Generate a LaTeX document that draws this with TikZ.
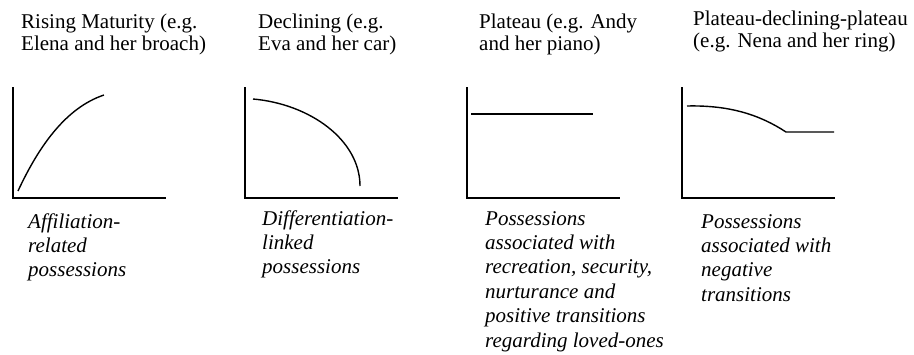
\documentclass[tikz,border=0pt]{standalone}
\usepackage{fontspec}
\setmainfont{Liberation Serif}
\begin{document}
\begin{tikzpicture}[x=1pt,y=-1pt,
  axis/.style={line width=1.4pt},
  curve/.style={line width=1.4pt},
  title/.style={anchor=base west,inner sep=0pt,align=left,font=\fontsize{21}{22.2}\selectfont},
  desc/.style={anchor=base west,inner sep=0pt,align=left,font=\fontsize{21}{24.4}\selectfont\itshape}]
\useasboundingbox (0,0) rectangle (914,354);
% chart 1
\coordinate (a1t) at (13,87); \coordinate (a1o) at (13,198); \coordinate (a1r) at (166,198);
\draw[axis] (a1t) -- (a1o) -- (a1r);
\coordinate (c1s) at (18,191); \coordinate (c1e) at (104,95);
\draw[curve] (c1s) .. controls (38,148) and (65,108) .. (c1e);
% chart 2
\coordinate (a2t) at (245,87); \coordinate (a2o) at (245,198); \coordinate (a2r) at (398,198);
\draw[axis] (a2t) -- (a2o) -- (a2r);
\coordinate (c2s) at (253,99); \coordinate (c2e) at (360,186);
\draw[curve] (c2s) .. controls (310,104) and (360,140) .. (c2e);
% chart 3
\coordinate (a3t) at (467,87); \coordinate (a3o) at (467,198); \coordinate (a3r) at (620,198);
\draw[axis] (a3t) -- (a3o) -- (a3r);
\coordinate (c3s) at (471,114); \coordinate (c3e) at (593,114);
\draw[curve] (c3s) -- (c3e);
% chart 4
\coordinate (a4t) at (682,87); \coordinate (a4o) at (682,198); \coordinate (a4r) at (835,198);
\draw[axis] (a4t) -- (a4o) -- (a4r);
\coordinate (c4s) at (687,106); \coordinate (c4m) at (786,132); \coordinate (c4e) at (834,132);
\draw[curve] (c4s) .. controls (730,105) and (760,115) .. (c4m) -- (c4e);
% titles (anchor = baseline of last line)
\node[title] (t1) at (21,50.2) {Rising Maturity (e.g.\\Elena and her broach)};
\node[title] (t2) at (258,50.2) {Declining (e.g.\\Eva and her car)};
\node[title] (t3) at (479,50.2) {Plateau (e.g. Andy\\and her piano)};
\node[title] (t4) at (693,47.2) {Plateau-declining-plateau\\(e.g. Nena and her ring)};
% descriptions (anchor = baseline of last line)
\node[desc] (d1) at (28,276.8) {Affiliation-\\related\\possessions};
\node[desc] (d2) at (262,273.8) {Differentiation-\\linked\\possessions};
\node[desc] (d3) at (485,347) {Possessions\\associated with\\recreation, security,\\nurturance and\\positive transitions\\regarding loved-ones};
\node[desc] (d4) at (701,301.2) {Possessions\\associated with\\negative\\transitions};
\end{tikzpicture}
\end{document}
